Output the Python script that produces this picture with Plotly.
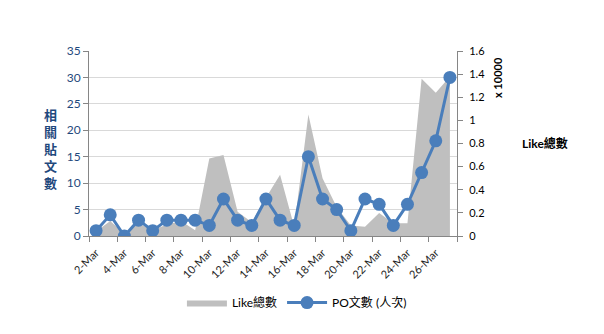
import plotly.graph_objects as go

dates = ["2-Mar", "3-Mar", "4-Mar", "5-Mar", "6-Mar", "7-Mar", "8-Mar", "9-Mar",
         "10-Mar", "11-Mar", "12-Mar", "13-Mar", "14-Mar", "15-Mar", "16-Mar",
         "17-Mar", "18-Mar", "19-Mar", "20-Mar", "21-Mar", "22-Mar", "23-Mar",
         "24-Mar", "25-Mar", "26-Mar", "27-Mar"]
posts = [1, 4, 0, 3, 1, 3, 3, 3, 2, 7, 3, 2, 7, 3, 2, 15, 7, 5, 1, 7, 6, 2, 6, 12, 18, 30]
likes = [400, 1300, 200, 1100, 500, 1000, 1300, 500, 6700, 7000, 2100, 1200, 3300,
         5300, 800, 10500, 5000, 2500, 900, 800, 2000, 1100, 1100, 13600, 12400, 13800]
like_scale = 10000
left_ticks = [0, 5, 10, 15, 20, 25, 30, 35]
right_ticks = [0, 0.2, 0.4, 0.6, 0.8, 1, 1.2, 1.4, 1.6]

idx = list(range(len(dates)))
# ticks between categories every 2, labels on every other category
tick_pos = [i - 0.5 for i in range(0, len(dates) + 1, 2)]
tick_txt = [dates[i] if i < len(dates) else "" for i in range(0, len(dates) + 1, 2)]

FONT = "Lato, 'Noto Sans CJK TC', sans-serif"
BLUE_TXT = "#1F497D"

fig = go.Figure()
fig.add_trace(go.Scatter(
    x=idx, y=[v / like_scale for v in likes], name="Like總數",
    mode="lines", fill="tozeroy", fillcolor="#BFBFBF",
    line=dict(width=0, color="#BFBFBF"), yaxis="y"))
fig.add_trace(go.Scatter(
    x=idx, y=posts, name="PO文數 (人次)", mode="lines+markers",
    line=dict(color="#4A7EBB", width=3),
    marker=dict(size=13, color="#4A7EBB"), yaxis="y2"))

fig.update_layout(
    width=604, height=334,
    margin=dict(l=89, r=147, t=51, b=98),
    paper_bgcolor="white", plot_bgcolor="white",
    font=dict(family=FONT, size=11, color="black"),
    showlegend=True,
    legend=dict(orientation="h", x=0.565, xanchor="center", y=-0.36, yanchor="middle",
                font=dict(size=12), itemwidth=40, tracegroupgap=0),
    xaxis=dict(range=[-0.5, len(dates) - 0.5], tickmode="array",
               tickvals=tick_pos, ticktext=tick_txt, tickangle=-45,
               ticklabelshift=7, ticks="outside", ticklen=5, tickcolor="#868686",
               showline=True, linecolor="#868686", showgrid=False, zeroline=False,
               tickfont=dict(size=11, color="#262626")),
    yaxis=dict(side="right", range=[0, 1.6], tickmode="array", tickvals=right_ticks,
               ticks="outside", ticklen=5, tickcolor="#868686", showline=True,
               linecolor="#868686", showgrid=False, zeroline=False,
               ticklabelstandoff=4,
               tickfont=dict(size=11, color="black")),
    yaxis2=dict(overlaying="y", side="left", range=[0, 35], tickmode="array",
                tickvals=left_ticks, ticks="outside", ticklen=5, tickcolor="#868686",
                showline=True, linecolor="#868686", showgrid=True,
                gridcolor="#D9D9D9", gridwidth=1, zeroline=False,
                tickfont=dict(size=12, color=BLUE_TXT)),
    annotations=[
        dict(text="相<br>關<br>貼<br>文<br>數", xref="paper", yref="paper",
             x=-0.105, y=0.47, xanchor="center", yanchor="middle", showarrow=False,
             font=dict(size=13, color=BLUE_TXT, family=FONT, weight="bold")),
        dict(text="x 10000", xref="paper", yref="paper", x=1.112, y=0.855,
             xanchor="center", yanchor="middle", showarrow=False, textangle=-90,
             font=dict(size=11, color="black", family=FONT, weight="bold")),
        dict(text="Like總數", xref="paper", yref="paper", x=1.24, y=0.5,
             xanchor="center", yanchor="middle", showarrow=False,
             font=dict(size=12, color="black", family=FONT, weight="bold")),
    ],
)

fig.write_html("out.html")
